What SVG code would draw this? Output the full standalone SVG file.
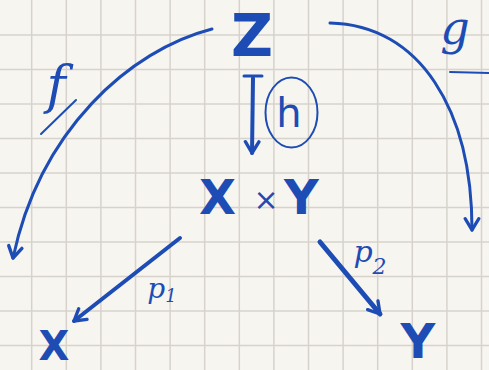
<svg xmlns="http://www.w3.org/2000/svg" width="489" height="370" viewBox="0 0 489 370">
<style>
.ink{fill:#1d4db4;font-family:"DejaVu Sans",sans-serif}
.big{font-weight:bold}
.lbl{font-family:"DejaVu Serif",serif;font-style:italic}
.edge{fill:none;stroke:#1d4db4;stroke-linecap:round;stroke-linejoin:round}
</style>
<defs>
<marker id="ah" viewBox="-12 -8 14 16" markerWidth="16" markerHeight="18" markerUnits="userSpaceOnUse" refX="0" refY="0" orient="auto">
<path d="M-10,-6 L0,0 L-10,6" fill="none" stroke="#1d4db4" stroke-width="3" stroke-linecap="round" stroke-linejoin="round"/>
</marker>
</defs>
<rect width="489" height="370" fill="#f7f5f0"/>
<path d="M31.7 0V370M66.3 0V370M100.9 0V370M135.5 0V370M170.1 0V370M204.7 0V370M239.3 0V370M273.9 0V370M308.5 0V370M343.1 0V370M377.7 0V370M412.3 0V370M446.9 0V370M481.5 0V370M0 35H489M0 69.5H489M0 104H489M0 138.5H489M0 173H489M0 207.5H489M0 242H489M0 276.5H489M0 311H489M0 345.5H489" stroke="#d7d3cc" stroke-width="1.5" fill="none"/>
<g id="connectors">
<path id="f" class="edge" stroke-width="3" d="M212 29 C130 50 40 130 13 258" marker-end="url(#ah)"/>
<path id="g" class="edge" stroke-width="3" d="M330 23 C420 25 472 110 472 230" marker-end="url(#ah)"/>
<path id="h" class="edge" stroke-width="4" d="M253 78 L252 153" marker-end="url(#ah)"/>
<path class="edge" stroke-width="3" d="M244 76 L262 76"/>
<path id="p1" class="edge" stroke-width="4" d="M180 238 L74 321" marker-end="url(#ah)"/>
<path id="p2" class="edge" stroke-width="5" d="M320 242 L380 314" marker-end="url(#ah)"/>
<ellipse cx="291.5" cy="112.5" rx="26" ry="35" fill="none" stroke="#1d4db4" stroke-width="2"/>
<path class="edge" stroke-width="2" d="M41 134 L76 100"/>
<path class="edge" stroke-width="2" d="M450 72 L489 73"/>
<text class="ink lbl" x="56" y="103" font-size="52" text-anchor="middle">f</text>
<text class="ink lbl" x="455" y="44" font-size="46" text-anchor="middle">g</text>
<text class="ink" x="289" y="127" font-size="40" text-anchor="middle">h</text>
<text class="ink lbl" x="162" y="298" font-size="28" text-anchor="middle">p<tspan font-size="18" dy="4">1</tspan></text>
<text class="ink lbl" x="370" y="262" font-size="30" text-anchor="middle">p<tspan font-size="22" dy="12">2</tspan></text>
</g>
<g id="Z"><text class="ink big" x="252" y="56" font-size="58" text-anchor="middle">Z</text></g>
<g id="XxY"><text class="ink big" y="214" font-size="48"><tspan x="199">X</tspan><tspan x="244" font-size="30" font-weight="normal" dy="-4"> ×</tspan><tspan x="284" dy="4">Y</tspan></text></g>
<g id="X"><text class="ink big" x="54" y="360" font-size="40" text-anchor="middle">X</text></g>
<g id="Y"><text class="ink big" x="418" y="358" font-size="48" text-anchor="middle">Y</text></g>
</svg>
